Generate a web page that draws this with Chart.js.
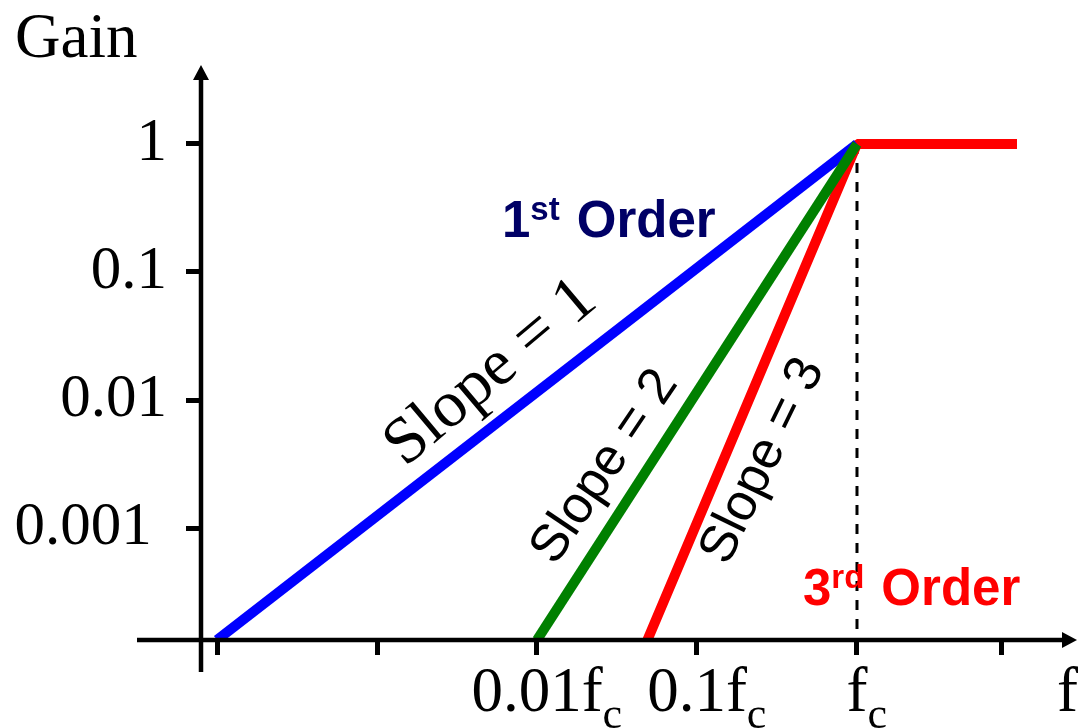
<!DOCTYPE html>
<html>
<head>
<meta charset="utf-8">
<title>Filter order gain slopes</title>
<script src="https://cdn.jsdelivr.net/npm/chart.js@4.4.1/dist/chart.umd.min.js"></script>
<style>
  html, body { margin: 0; padding: 0; background: #fff; }
  #wrap { width: 1078px; height: 728px; position: relative; }
</style>
</head>
<body>
<div id="wrap"><canvas id="chartCanvas"></canvas></div>
<script>
// Datos (f relativo a fc = 1)
const gainFloor = 1.334e-4; // ganancia donde cruza el eje f

const freqFirst = [1e-4, 1];
const gainFirst = [gainFloor, 1];

const freqSecond = [0.01, 1];
const gainSecond = [gainFloor, 1];

const freqThird = [0.049, 1, 10];
const gainThird = [gainFloor, 1, 1];

const freqCutoff = [1, 1];
const gainCutoff = [1, gainFloor];

const xTickValues = [1e-4, 1e-3, 1e-2, 1e-1, 1, 8];
const xTickLabels = ['', '', '0.01f', '0.1f', 'f', ''];
const yTickValues = [1, 0.1, 0.01, 0.001];
const yTickLabels = ['1', '0.1', '0.01', '0.001 '];

const SERIF = '"Liberation Serif", "Times New Roman", serif';
const SANS = '"Liberation Sans", Arial, sans-serif';

function puntos(xs, ys) {
  return xs.map((x, i) => ({ x: x, y: ys[i] }));
}

function textoRotado(ctx, txt, cx, cy, deg, font) {
  ctx.save();
  ctx.translate(cx, cy);
  ctx.rotate(deg * Math.PI / 180);
  ctx.font = font;
  ctx.textAlign = 'center';
  ctx.textBaseline = 'middle';
  ctx.fillStyle = '#000';
  ctx.fillText(txt, 0, 0);
  ctx.restore();
}

function etiquetaOrden(ctx, x0, base, num, sup, color) {
  ctx.fillStyle = color;
  ctx.textAlign = 'left';
  ctx.textBaseline = 'alphabetic';
  ctx.font = 'bold 51px ' + SANS;
  ctx.fillText(num, x0, base);
  let x = x0 + ctx.measureText(num).width;
  ctx.font = 'bold 33px ' + SANS;
  ctx.fillText(sup, x, base - 17);
  x += ctx.measureText(sup).width + 17;
  ctx.font = 'bold 51px ' + SANS;
  ctx.fillText('Order', x, base);
}

// Ejes con flechas, etiquetas y anotaciones
const extras = {
  id: 'extras',
  afterDatasetsDraw(chart) {
    const { ctx, chartArea, scales } = chart;
    const ox = chartArea.left, oy = chartArea.bottom;
    const tipX = chartArea.right - 1, tipY = chartArea.top;
    ctx.save();
    ctx.strokeStyle = '#000';
    ctx.fillStyle = '#000';
    ctx.lineWidth = 4.5;
    ctx.beginPath();
    ctx.moveTo(137, oy);
    ctx.lineTo(tipX - 12, oy);
    ctx.moveTo(ox, 672);
    ctx.lineTo(ox, tipY + 13);
    ctx.stroke();

    ctx.beginPath();
    ctx.moveTo(tipX, oy);
    ctx.lineTo(tipX - 15, oy - 8);
    ctx.lineTo(tipX - 15, oy + 8);
    ctx.closePath();
    ctx.moveTo(ox, tipY);
    ctx.lineTo(ox - 8, tipY + 15);
    ctx.lineTo(ox + 8, tipY + 15);
    ctx.closePath();
    ctx.fill();

    // etiquetas del eje x con subindice c
    ctx.textBaseline = 'alphabetic';
    ctx.textAlign = 'left';
    xTickValues.forEach((v, i) => {
      const txt = xTickLabels[i];
      if (!txt) return;
      const px = scales.x.getPixelForValue(v);
      ctx.font = '63px ' + SERIF;
      const w = ctx.measureText(txt).width;
      ctx.fillText(txt, px - w / 2, 711);
      ctx.font = '44px ' + SERIF;
      ctx.fillText('c', px + w / 2, 728);
    });

    ctx.font = '63px ' + SERIF;
    ctx.fillText('Gain', 15, 57);
    ctx.fillText('f', 1057, 711);

    textoRotado(ctx, 'Slope = 1', 491, 373, -40, '66px ' + SERIF);
    textoRotado(ctx, 'Slope = 2', 605, 467, -56, '52px ' + SANS);
    textoRotado(ctx, 'Slope = 3', 763, 461, -64, '52px ' + SANS);

    etiquetaOrden(ctx, 502, 237, '1', 'st', '#000066');
    etiquetaOrden(ctx, 803, 605, '3', 'rd', '#ff0000');
    ctx.restore();
  }
};

const ctx = document.getElementById('chartCanvas').getContext('2d');
new Chart(ctx, {
  type: 'line',
  data: {
    datasets: [
      { data: puntos(freqSecond, gainSecond), borderColor: '#008000', borderWidth: 10, order: 0 },
      { data: puntos(freqFirst, gainFirst), borderColor: '#0000ff', borderWidth: 10, order: 1 },
      { data: puntos(freqThird, gainThird), borderColor: '#ff0000', borderWidth: 10, order: 2, borderJoinStyle: 'bevel' },
      { data: puntos(freqCutoff, gainCutoff), borderColor: '#000', borderWidth: 3, borderDash: [10, 9], order: 3 }
    ]
  },
  options: {
    responsive: true,
    maintainAspectRatio: false,
    animation: false,
    events: [],
    layout: { padding: { top: 65, right: 0, bottom: 0, left: 0 } },
    elements: {
      point: { radius: 0 },
      line: { tension: 0, borderCapStyle: 'butt', fill: false }
    },
    datasets: { line: { clip: 0 } },
    plugins: { legend: { display: false }, tooltip: { enabled: false }, title: { display: false } },
    scales: {
      x: {
        type: 'logarithmic',
        position: 'bottom',
        min: 7.943e-5,
        max: 24.06,
        bounds: 'data',
        afterBuildTicks: (scale) => { scale.ticks = xTickValues.map(v => ({ value: v })); },
        afterFit: (scale) => { scale.height = 88; },
        ticks: { display: false },
        border: { display: false },
        grid: { display: true, drawOnChartArea: false, drawTicks: true, tickLength: 15, tickWidth: 5, tickColor: '#000' }
      },
      y: {
        type: 'logarithmic',
        position: 'left',
        min: gainFloor,
        max: 4.14,
        bounds: 'data',
        afterBuildTicks: (scale) => { scale.ticks = yTickValues.map(v => ({ value: v })); },
        afterFit: (scale) => { scale.width = 201; },
        ticks: {
          callback: (value, index) => yTickLabels[index],
          color: '#000',
          padding: 19,
          font: { family: SERIF, size: 61 }
        },
        border: { display: false },
        grid: { display: true, drawOnChartArea: false, drawTicks: true, tickLength: 15, tickWidth: 5, tickColor: '#000' }
      }
    }
  },
  plugins: [extras]
});
</script>
</body>
</html>
